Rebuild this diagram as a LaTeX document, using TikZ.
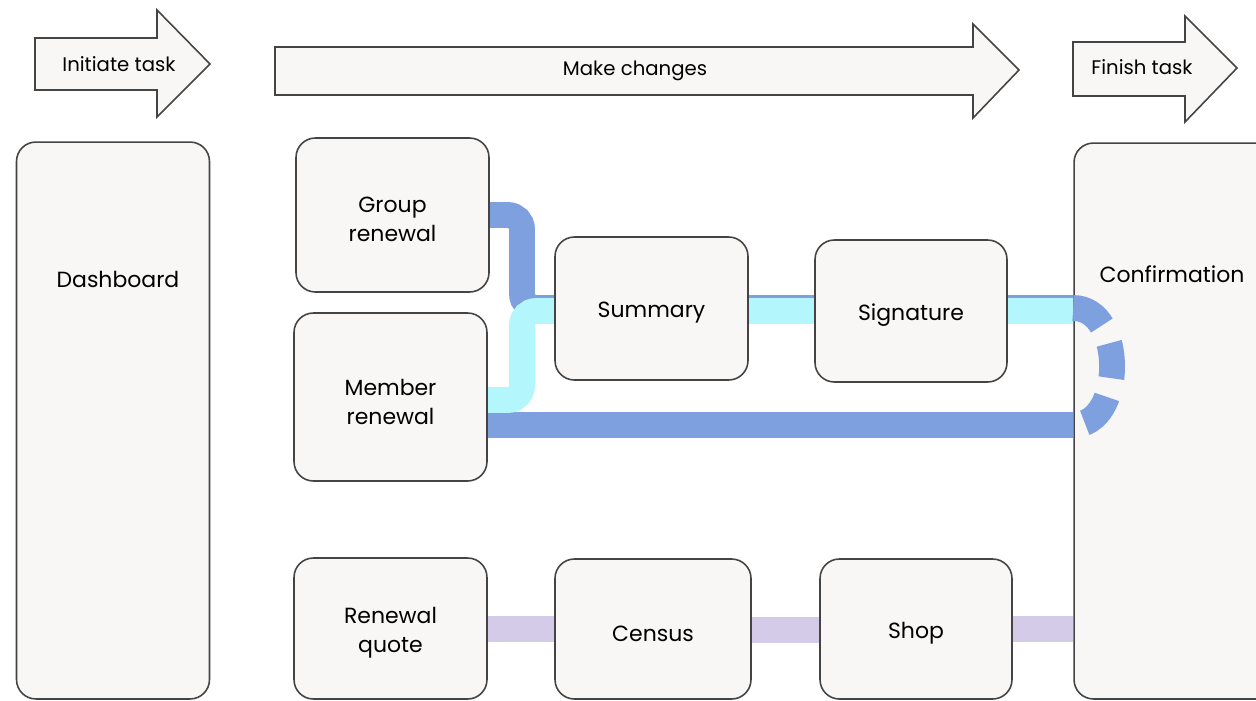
\documentclass[tikz,border=0pt]{standalone}
\usepackage{fontspec}
\setmainfont{Poppins}
\usepackage{tikz}
\usetikzlibrary{backgrounds}
\definecolor{boxfill}{HTML}{F8F7F5}
\definecolor{boxline}{HTML}{444444}
\definecolor{linkblue}{HTML}{7FA0DE}
\definecolor{linkcyan}{HTML}{B3F7FD}
\definecolor{linklav}{HTML}{D3CBE8}

\begin{document}
\begin{tikzpicture}[x=0.02cm, y=-0.02cm,
	box/.style = {draw=boxline, fill=boxfill, line width=0.9pt, rounded corners=11pt, minimum width=3.86cm},
	boxtext/.style = {align=center, font=\fontsize{12.5}{16.6}\selectfont, yshift=-2.6pt},
	stage/.style = {draw=boxline, fill=boxfill, line width=0.9pt},
	stagetext/.style = {font=\fontsize{11.2}{13}\selectfont},
	bluelink/.style = {draw=linkblue, line width=14.7pt},
	cyanlink/.style = {draw=linkcyan, line width=14.7pt},
	lavlink/.style = {draw=linklav, line width=14.7pt}]
	\useasboundingbox (0,0) rectangle (1256,700);
	\clip (0,0) rectangle (1256,700);
	% stage arrows
	\draw[stage] (35,38) -- (157,38) -- (157,10) -- (210,64) -- (157,117) -- (157,90) -- (35,90) -- cycle;
	\draw[stage] (275,47) -- (973,47) -- (973,24) -- (1019,70) -- (973,118) -- (973,95) -- (275,95) -- cycle;
	\draw[stage] (1073,42) -- (1185,42) -- (1185,16) -- (1237,68) -- (1185,122) -- (1185,96) -- (1073,96) -- cycle;
	\node[stagetext] (initiate) at (119,64.5) {Initiate task};
	\node[stagetext] (changes) at (635,71) {Make changes};
	\node[stagetext] (finish) at (1142,67.5) {Finish task};
	% pages
	\node[box, minimum height=11.14cm] (dash) at (113,420.5) {};
	\node[box, minimum width=4.6cm, minimum height=11.12cm] (confirm) at (1189,421) {};
	\node[boxtext, yshift=2.6pt] (dashtext) at (118,279) {Dashboard};
	\node[boxtext, yshift=2.6pt] (confirmtext) at (1172,274) {Confirmation};
	\node[box, minimum height=3.08cm, label={[boxtext]center:{Group\\renewal}}] (group) at (392.5,215) {};
	\node[box, minimum height=3.36cm, label={[boxtext]center:{Member\\renewal}}] (member) at (390.5,397) {};
	\node[box, minimum height=2.86cm, label={[boxtext]center:Summary}] (summary) at (651.5,308.5) {};
	\node[box, minimum width=3.84cm, minimum height=2.84cm, label={[boxtext]center:Signature}] (signature) at (911,311) {};
	\node[box, minimum height=2.82cm, label={[boxtext]center:{Renewal\\quote}}] (quote) at (390.5,628.5) {};
	\node[box, minimum width=3.92cm, minimum height=2.8cm, label={[boxtext]center:Census}] (census) at (653,629) {};
	\node[box, minimum width=3.84cm, minimum height=2.8cm, label={[boxtext]center:Shop}] (shop) at (916,629) {};
	% flows
	\begin{pgfonlayer}{background}
	\draw[bluelink, rounded corners=8pt] (group.east) -| (522,308) -- (summary.west |- 0,308);
	\draw[bluelink] (summary.east |- 0,308) -- (signature.west |- 0,308);
	\draw[bluelink] (signature.east |- 0,308) -- (confirm.west |- 0,308);
	\draw[bluelink] (member.east |- 0,425) -- (confirm.west |- 0,425);
	\draw[cyanlink, rounded corners=8pt] (member.east |- 0,400) -| (522,311) -- (summary.west |- 0,311);
	\draw[cyanlink] (summary.east |- 0,311) -- (signature.west |- 0,311);
	\draw[cyanlink] (signature.east |- 0,311) -- (confirm.west |- 0,311);
	\draw[lavlink] (quote.east |- 0,629) -- (census.west |- 0,629);
	\draw[lavlink] (census.east |- 0,630) -- (shop.west |- 0,630);
	\draw[lavlink] (shop.east |- 0,629) -- (confirm.west |- 0,629);
	\end{pgfonlayer}
	\draw[bluelink, dash pattern=on 20pt off 11pt] (confirm.west |- 0,308) .. controls (1125,308) and (1125,425) .. (confirm.west |- 0,425);
\end{tikzpicture}
\end{document}
